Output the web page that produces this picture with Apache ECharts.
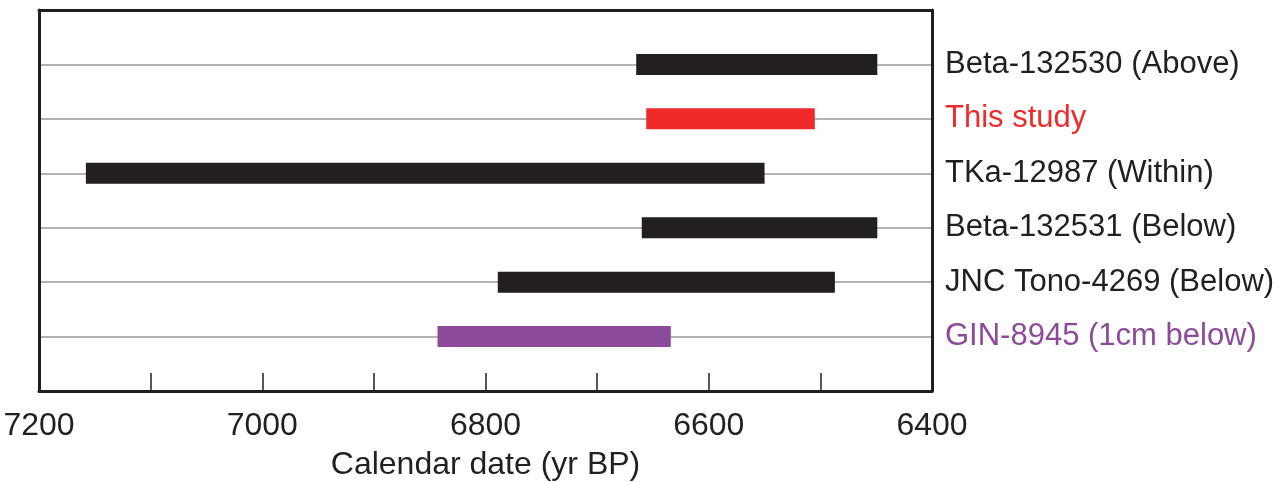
<!DOCTYPE html>
<html>
<head>
<meta charset="utf-8">
<script src="https://cdn.jsdelivr.net/npm/echarts@6/dist/echarts.min.js"></script>
<style>
html,body{margin:0;padding:0;background:#fff;}
#chart{width:1287px;height:482px;}
</style>
</head>
<body>
<div id="chart"></div>
<script>
// Samples, top to bottom
const sampleLabels = ['Beta-132530 (Above)', 'This study', 'TKa-12987 (Within)', 'Beta-132531 (Below)', 'JNC Tono-4269 (Below)', 'GIN-8945 (1cm below)'];
// Calibrated age ranges (yr BP): older bound, younger bound
const olderAges = [6665, 6656, 7158, 6660, 6789, 6843];
const youngerAges = [6449, 6505, 6550, 6449, 6487, 6634];
// x-axis tick labels
const xTickLabels = [7200, 7000, 6800, 6600, 6400];

const barColors = ['#231f20', '#ee2a2a', '#231f20', '#231f20', '#231f20', '#8e4a9a'];

const yCats = [''].concat(sampleLabels, ['']);
const seriesData = sampleLabels.map((l, i) => [i + 1, olderAges[i], youngerAges[i]]);

const chart = echarts.init(document.getElementById('chart'));
chart.setOption({
  animation: false,
  backgroundColor: '#ffffff',
  grid: {
    left: 39, top: 10, right: 355, bottom: 91,
    show: false,
    containLabel: false,
    outerBoundsMode: 'none'
  },
  xAxis: [{
    type: 'value',
    inverse: true,
    min: 6400, max: 7200, interval: 100,
    axisLine: { show: true, onZero: false, lineStyle: { color: '#231f20', width: 3 } },
    axisTick: { show: true, inside: true, length: 18, lineStyle: { color: '#231f20', width: 1.5 } },
    axisLabel: {
      show: true, margin: 19,
      fontFamily: 'Liberation Sans, Arial, sans-serif', fontSize: 32, color: '#231f20',
      showMinLabel: true, showMaxLabel: true,
      formatter: v => (xTickLabels.indexOf(v) >= 0 ? String(v) : '')
    },
    splitLine: { show: false },
    name: 'Calendar date (yr BP)',
    nameLocation: 'middle',
    nameGap: 58,
    nameTextStyle: { fontFamily: 'Liberation Sans, Arial, sans-serif', fontSize: 32, color: '#231f20' }
  }, {
    type: 'value',
    position: 'top',
    inverse: true,
    min: 6400, max: 7200, interval: 100,
    axisLine: { show: true, onZero: false, lineStyle: { color: '#231f20', width: 3 } },
    axisTick: { show: false },
    axisLabel: { show: false },
    splitLine: { show: false }
  }],
  yAxis: [{
    type: 'category',
    data: yCats,
    inverse: true,
    boundaryGap: false,
    position: 'right',
    axisLine: { show: true, onZero: false, lineStyle: { color: '#231f20', width: 3 } },
    axisTick: { show: false },
    axisLabel: {
      show: true, margin: 13,
      fontFamily: 'Liberation Sans, Arial, sans-serif', fontSize: 31,
      color: (v, i) => {
        const k = sampleLabels.indexOf(v);
        return k >= 0 ? barColors[k] : '#231f20';
      }
    },
    splitLine: { show: true, showMinLine: false, showMaxLine: false, lineStyle: { color: '#9a9a9a', width: 1.5 } }
  }, {
    type: 'category',
    data: yCats,
    inverse: true,
    boundaryGap: false,
    position: 'left',
    axisLine: { show: true, onZero: false, lineStyle: { color: '#231f20', width: 3 } },
    axisTick: { show: false },
    axisLabel: { show: false },
    splitLine: { show: false }
  }],
  series: [{
    type: 'custom',
    xAxisIndex: 0,
    yAxisIndex: 0,
    encode: { x: [1, 2], y: 0 },
    data: seriesData,
    renderItem: function (params, api) {
      const cat = api.value(0);
      const p1 = api.coord([api.value(1), cat]);
      const p2 = api.coord([api.value(2), cat]);
      const h = 21;
      const x = Math.min(p1[0], p2[0]);
      const w = Math.abs(p2[0] - p1[0]);
      return {
        type: 'rect',
        shape: { x: x, y: p1[1] - h / 2, width: w, height: h },
        style: { fill: barColors[params.dataIndex] }
      };
    }
  }]
});
</script>
</body>
</html>
